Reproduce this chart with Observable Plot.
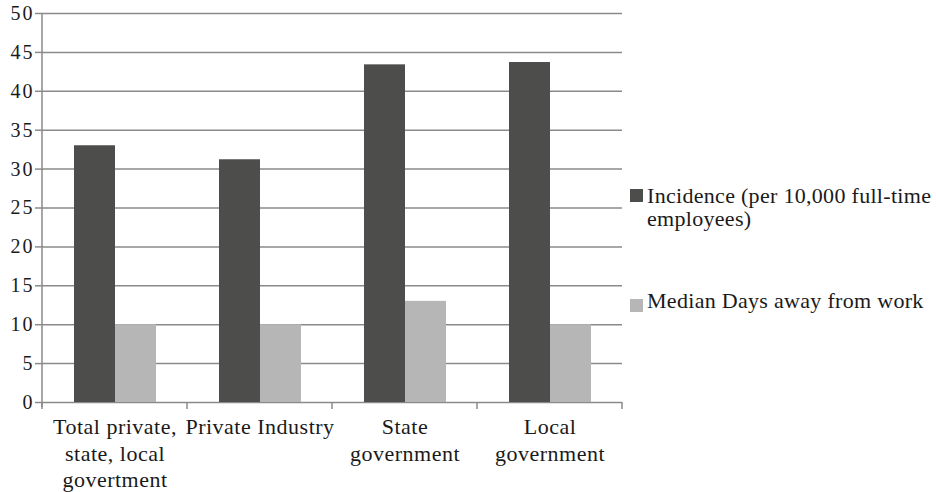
<!DOCTYPE html>
<html>
<head>
<meta charset="utf-8">
<script src="https://cdn.jsdelivr.net/npm/d3@7"></script>
<script src="https://cdn.jsdelivr.net/npm/@observablehq/plot@0.6"></script>
<style>
  html, body { margin: 0; padding: 0; background: #fff; }
  #wrap { position: relative; width: 936px; height: 492px; overflow: hidden; font-family: "Liberation Serif", "Times New Roman", serif; color: #1a1a1a; }
  #wrap svg, #wrap svg text { font-family: "Liberation Serif", "Times New Roman", serif !important; }
  #wrap svg g[aria-label="fx-axis tick label"] text { letter-spacing: 0.5px; }
  #wrap svg g[aria-label="y-axis tick label"] text { letter-spacing: 2px; }
  .leg { position: absolute; font-size: 22px; line-height: 23px; letter-spacing: 0.3px; width: 289px; white-space: normal; }
  .sw { position: absolute; width: 13px; height: 13px; }
</style>
</head>
<body>
<div id="wrap"></div>
<script>
const categories = ["Total private,\nstate, local\ngovertment", "Private Industry", "State\ngovernment", "Local\ngovernment"];
const seriesNames = ["Incidence (per 10,000 full-time employees)", "Median Days away from work"];
const incidence = [33.0, 31.2, 43.4, 43.7];
const medianDays = [10, 10, 13, 10];
const yTicks = [0, 5, 10, 15, 20, 25, 30, 35, 40, 45, 50];
const colors = ["#4d4d4b", "#b5b6b5"];

const data = categories.flatMap((c, i) => [
  {category: c, series: seriesNames[0], value: incidence[i]},
  {category: c, series: seriesNames[1], value: medianDays[i]}
]);

const gridColor = "#8a8a8a";
const fontFam = "Liberation Serif, Times New Roman, serif";

const plot = Plot.plot({
  width: 936,
  height: 492,
  marginLeft: 41,
  marginRight: 313,
  marginTop: 13,
  marginBottom: 90,
  style: {fontFamily: fontFam, fontSize: "20px", color: "#1a1a1a", background: "transparent"},
  fx: {domain: categories, padding: 0, label: null},
  x: {domain: seriesNames, paddingInner: 0, paddingOuter: 0.73, axis: null},
  y: {domain: [0, 50], label: null},
  color: {domain: seriesNames, range: colors},
  marks: [
    Plot.gridY(yTicks, {stroke: gridColor, strokeOpacity: 1, strokeWidth: 1.5}),
    Plot.barY(data, {fx: "category", x: "series", y: "value", fill: "series"}),
    Plot.axisY(yTicks, {anchor: "left", tickSize: 7, stroke: gridColor, strokeWidth: 1.5, tickPadding: 1, tickFormat: d => d, label: null, fontSize: 20, fontFamily: fontFam, fill: "#1a1a1a"}),
    Plot.axisFx({anchor: "bottom", tickSize: 0, tickPadding: 13, lineHeight: 1.2, label: null, fontSize: 22, fontFamily: fontFam, fill: "#1a1a1a"})
  ]
});

// Axis lines and category boundary ticks, positioned through the plot's own scales
const fx = plot.scale("fx");
const y = plot.scale("y");
const svg = d3.select(plot);
const g = svg.append("g").attr("stroke", gridColor).attr("stroke-width", 1.5);
const y0 = y.apply(0), yTop = y.apply(50);
const left = fx.apply(categories[0]);
g.append("line").attr("x1", left).attr("x2", left).attr("y1", yTop).attr("y2", y0 + 5);
const bounds = categories.map(c => fx.apply(c)).concat([fx.apply(categories[categories.length - 1]) + fx.bandwidth]);
bounds.forEach(b => {
  g.append("line").attr("x1", b).attr("x2", b).attr("y1", y0).attr("y2", y0 + 7);
});

const wrap = document.getElementById("wrap");
wrap.appendChild(plot);

// Legend
const legendPos = [{top: 184, sq: 189}, {top: 289, sq: 299}];
seriesNames.forEach((name, i) => {
  const sw = document.createElement("div");
  sw.className = "sw";
  sw.style.left = "630px";
  sw.style.top = legendPos[i].sq + "px";
  sw.style.background = colors[i];
  wrap.appendChild(sw);
  const t = document.createElement("div");
  t.className = "leg";
  t.style.left = "647px";
  t.style.top = legendPos[i].top + "px";
  t.textContent = name;
  wrap.appendChild(t);
});
</script>
</body>
</html>
